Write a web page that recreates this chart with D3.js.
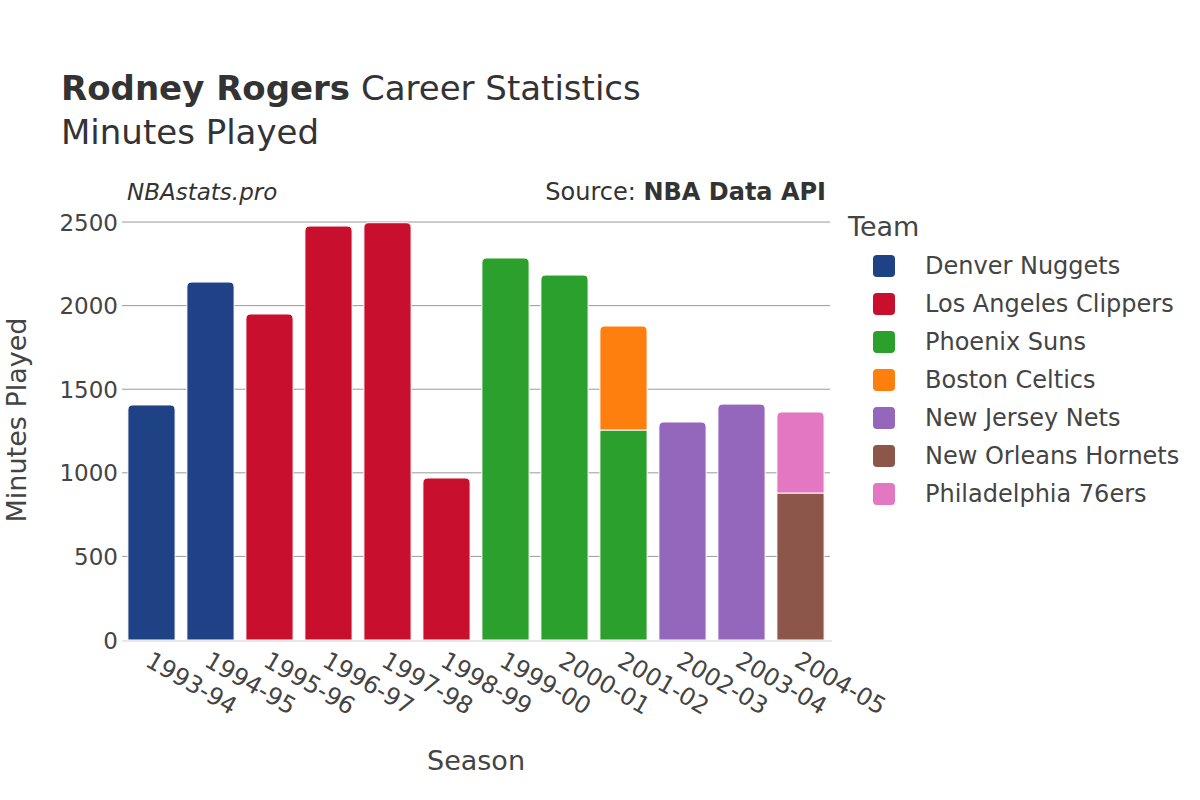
<!DOCTYPE html>
<html>
<head>
<meta charset="utf-8">
<script src="https://cdn.jsdelivr.net/npm/d3@7"></script>
<style>
  body { margin: 0; background: #fff; }
  svg { font-family: "DejaVu Sans", sans-serif; }
</style>
</head>
<body>
<div id="main"></div>
<script>
const seasons = ["1993-94", "1994-95", "1995-96", "1996-97", "1997-98", "1998-99",
  "1999-00", "2000-01", "2001-02", "2002-03", "2003-04", "2004-05"];
const teams = ["Denver Nuggets", "Los Angeles Clippers", "Phoenix Suns", "Boston Celtics",
  "New Jersey Nets", "New Orleans Hornets", "Philadelphia 76ers"];
const teamColors = ["#1f4287", "#c8102e", "#2ca02c", "#ff7f0e", "#9467bd", "#8c564b", "#e377c2"];
// one entry per bar segment, in stacking order
const rowSeason = ["1993-94", "1994-95", "1995-96", "1996-97", "1997-98", "1998-99",
  "1999-00", "2000-01", "2001-02", "2001-02", "2002-03", "2003-04", "2004-05", "2004-05"];
const rowTeam = ["Denver Nuggets", "Denver Nuggets", "Los Angeles Clippers", "Los Angeles Clippers",
  "Los Angeles Clippers", "Los Angeles Clippers", "Phoenix Suns", "Phoenix Suns", "Phoenix Suns",
  "Boston Celtics", "New Jersey Nets", "New Jersey Nets", "New Orleans Hornets", "Philadelphia 76ers"];
const rowMinutes = [1406, 2141, 1950, 2476, 2496, 969, 2285, 2183, 1256, 622, 1304, 1411, 879, 485];
const yTicks = [0, 500, 1000, 1500, 2000, 2500];

const W = 1200, H = 800;
const margin = { left: 122, right: 370, top: 210, bottom: 160 };

const svg = d3.select("#main").append("svg").attr("width", W).attr("height", H);

const x = d3.scaleBand().domain(seasons).range([margin.left, W - margin.right]).paddingInner(0.2).paddingOuter(0.1);
const y = d3.scaleLinear().domain([0, 2572]).range([H - margin.bottom, margin.top]);
const color = d3.scaleOrdinal().domain(teams).range(teamColors);

// grid
svg.append("g").selectAll("line").data(yTicks.filter(d => d > 0)).enter().append("line")
  .attr("x1", margin.left).attr("x2", W - margin.right)
  .attr("y1", d => y(d)).attr("y2", d => y(d))
  .attr("stroke", "#999").attr("stroke-width", 1);

// stack segments
const rows = rowSeason.map((s, i) => ({ season: s, team: rowTeam[i], value: rowMinutes[i] }));
const base = {};
rows.forEach(r => {
  r.y0 = base[r.season] || 0;
  r.y1 = r.y0 + r.value;
  base[r.season] = r.y1;
});
rows.forEach(r => { r.top = r.y1 === base[r.season]; });

function segPath(r) {
  const x0 = x(r.season), w = x.bandwidth();
  const yb = y(r.y0), yt = y(r.y1);
  const rad = r.top ? 5 : 0;
  return `M${x0},${yb}V${yt + rad}Q${x0},${yt} ${x0 + rad},${yt}H${x0 + w - rad}Q${x0 + w},${yt} ${x0 + w},${yt + rad}V${yb}Z`;
}

svg.append("g").selectAll("path").data(rows).enter().append("path")
  .attr("d", segPath)
  .attr("fill", d => color(d.team))
  .attr("stroke", "#fff").attr("stroke-width", 1);

// zero line
svg.append("line").attr("x1", margin.left).attr("x2", W - margin.right + 2)
  .attr("y1", y(0) + 1).attr("y2", y(0) + 1).attr("stroke", "#e8e8e8").attr("stroke-width", 2);

// y axis
const yAxis = svg.append("g").attr("transform", `translate(${margin.left - 4},0)`)
  .call(d3.axisLeft(y).tickValues(yTicks).tickFormat(d3.format("d")).tickSize(0).tickPadding(0));
yAxis.select(".domain").remove();
yAxis.selectAll("text").attr("font-size", 23).attr("fill", "#444").attr("dy", "0.35em")
  .attr("font-family", "DejaVu Sans");

// x axis
const xAxis = svg.append("g").attr("transform", `translate(0,${y(0)})`)
  .call(d3.axisBottom(x).tickSize(0));
xAxis.select(".domain").remove();
xAxis.selectAll("text")
  .attr("font-size", 24).attr("fill", "#444").attr("font-family", "DejaVu Sans")
  .attr("text-anchor", "start").attr("dy", "0.7em")
  .attr("transform", d => `translate(${-x.bandwidth() / 2 + 26},8) rotate(30)`);

// titles
const title = svg.append("text").attr("x", 61).attr("y", 100).attr("font-size", 34).attr("fill", "#333");
title.append("tspan").attr("font-weight", "bold").text("Rodney Rogers");
title.append("tspan").text(" Career Statistics");
svg.append("text").attr("x", 61).attr("y", 144).attr("font-size", 34).attr("fill", "#333").text("Minutes Played");

svg.append("text").attr("x", 127).attr("y", 200).attr("font-size", 23).attr("font-style", "italic")
  .attr("fill", "#333").text("NBAstats.pro");
const src = svg.append("text").attr("x", 826).attr("y", 200).attr("font-size", 24)
  .attr("text-anchor", "end").attr("fill", "#333");
src.append("tspan").text("Source: ");
src.append("tspan").attr("font-weight", "bold").text("NBA Data API");

svg.append("text").attr("x", 476).attr("y", 770).attr("font-size", 27).attr("text-anchor", "middle")
  .attr("fill", "#444").text("Season");
svg.append("text").attr("transform", `translate(26,420) rotate(-90)`)
  .attr("font-size", 27).attr("text-anchor", "middle").attr("fill", "#444").text("Minutes Played");

// legend
const legend = svg.append("g").attr("transform", "translate(848,0)");
legend.append("text").attr("x", 0).attr("y", 236).attr("font-size", 27).attr("fill", "#444").text("Team");
const items = legend.selectAll("g.item").data(teams).enter().append("g").attr("class", "item")
  .attr("transform", (d, i) => `translate(0,${266 + i * 38})`);
items.append("rect").attr("x", 25).attr("y", -11).attr("width", 22).attr("height", 22).attr("rx", 4)
  .attr("fill", d => color(d));
items.append("text").attr("x", 77).attr("y", 0).attr("dy", "0.35em").attr("font-size", 24)
  .attr("fill", "#444").text(d => d);
</script>
</body>
</html>
